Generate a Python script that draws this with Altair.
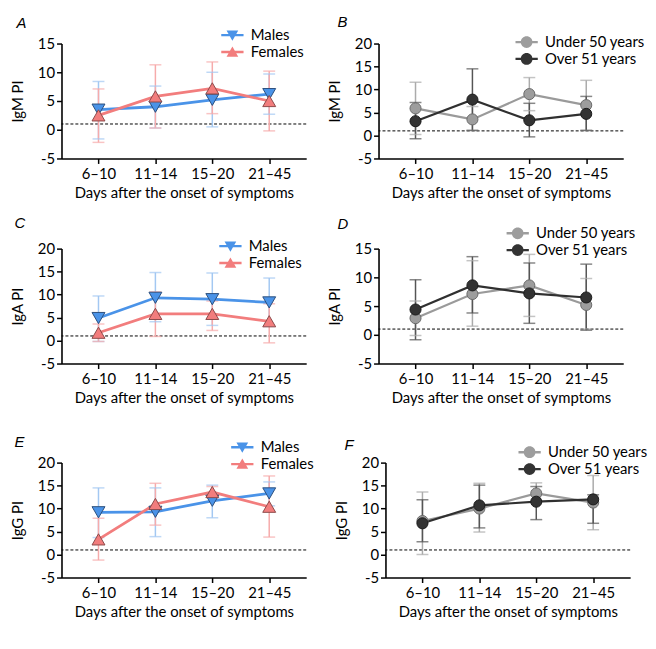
import altair as alt
import pandas as pd

days = ["6–10", "11–14", "15–20", "21–45"]
sex_groups = ["Males", "Females"]
age_groups = ["Under 50 years", "Over 51 years"]
x_title = "Days after the onset of symptoms"

# ---- A: IgM PI by sex ----
A_males_mean = [3.5, 4.0, 5.2, 6.2]
A_males_lo = [-1.6, 0.3, 0.5, 2.7]
A_males_hi = [8.4, 7.6, 10.0, 9.7]
A_females_mean = [2.5, 5.8, 7.2, 5.0]
A_females_lo = [-2.2, 0.3, 2.8, -0.2]
A_females_hi = [7.1, 11.3, 11.8, 10.2]

# ---- B: IgM PI by age ----
B_under_mean = [5.9, 3.5, 9.0, 6.6]
B_under_lo = [0.2, 1.1, 5.4, 1.1]
B_under_hi = [11.6, 6.3, 12.6, 12.0]
B_over_mean = [3.1, 7.8, 3.3, 4.7]
B_over_lo = [-0.7, 1.1, -0.3, 1.1]
B_over_hi = [7.2, 14.5, 7.0, 8.5]

# ---- C: IgA PI by sex ----
C_males_mean = [4.9, 9.3, 9.0, 8.3]
C_males_lo = [-0.2, 4.1, 3.3, 3.1]
C_males_hi = [9.7, 14.8, 14.7, 13.6]
C_females_mean = [1.7, 5.8, 5.8, 4.2]
C_females_lo = [-0.2, 0.9, 2.2, -0.5]
C_females_hi = [3.6, 10.6, 8.6, 8.0]

# ---- D: IgA PI by age ----
D_under_mean = [2.9, 7.1, 8.6, 5.2]
D_under_lo = [-0.1, 1.5, 3.2, 1.0]
D_under_hi = [5.9, 12.9, 14.0, 9.8]
D_over_mean = [4.4, 8.6, 7.2, 6.5]
D_over_lo = [-0.85, 3.8, 2.0, 0.8]
D_over_hi = [9.6, 13.6, 12.5, 12.3]

# ---- E: IgG PI by sex ----
E_males_mean = [9.2, 9.3, 11.7, 13.3]
E_males_lo = [3.7, 3.9, 8.0, 10.6]
E_males_hi = [14.5, 14.5, 15.1, 15.8]
E_females_mean = [3.3, 11.0, 13.6, 10.4]
E_females_lo = [-1.2, 6.4, 12.4, 3.8]
E_females_hi = [7.9, 15.5, 14.8, 17.1]

# ---- F: IgG PI by age ----
F_under_mean = [7.3, 10.0, 13.3, 11.3]
F_under_lo = [0.0, 4.9, 11.5, 5.4]
F_under_hi = [13.6, 15.5, 15.6, 17.2]
F_over_mean = [6.8, 10.7, 11.5, 12.0]
F_over_lo = [2.8, 5.8, 7.6, 6.8]
F_over_hi = [11.9, 15.1, 14.8, 13.0]

FONT = "Lato"
FS = 15

STUBS = "M-1.9,-0.2L-0.35,-0.2L-0.35,0.2L-1.9,0.2Z M0.35,-0.2L1.9,-0.2L1.9,0.2L0.35,0.2Z"
DOWN = "M-1,-0.8L1,-0.8L0,0.95Z " + STUBS
UP = "M-1,0.8L0,-0.95L1,0.8Z " + STUBS
CIRC = ("M-1,0A1,1,0,1,1,1,0A1,1,0,1,1,-1,0Z "
        "M-1.9,-0.2L-0.98,-0.2L-0.98,0.2L-1.9,0.2Z M0.98,-0.2L1.9,-0.2L1.9,0.2L0.98,0.2Z")

sex_style = dict(
    line=["#4a93e8", "#f27d7d"],
    err=["#a3c8f2", "#f6abab"],
    fill=["#4a93e8", "#f27d7d"],
    outline=["#2c4f7c", "#8c4a4a"],
    shapes=["triangle-down", "triangle-up"],
    paths=[DOWN, UP],
    size=170,
    lw=2.8,
)
age_style = dict(
    line=["#9a9a9a", "#303030"],
    err=["#ababab", "#555555"],
    fill=["#9d9d9d", "#333333"],
    outline=["#6a6a6a", "#1a1a1a"],
    shapes=["circle", "circle"],
    paths=[CIRC, CIRC],
    size=125,
    lw=2.2,
)


def make_df(groups, means, los, his):
    rows = []
    for g, m, lo, hi in zip(groups, means, los, his):
        for i, (d, mv, lv, hv) in enumerate(zip(days, m, lo, hi)):
            rows.append(dict(day=d, idx=i, group=g, mean=mv, lo=lv, hi=hv))
    return pd.DataFrame(rows)


def panel(letter, ytitle, ymax, groups, means, los, his, st, lx, ly, tdx, toff):
    df = make_df(groups, means, los, his)
    base = alt.Chart(df)
    x = alt.X("day:N", sort=days,
              scale=alt.Scale(type="point", padding=0.65),
              axis=alt.Axis(title=x_title, labelAngle=0, labelPadding=3,
                            titlePadding=4, titleFontWeight="normal"))
    ysc = alt.Scale(domain=[-5, ymax], nice=False, zero=False)
    yax = alt.Axis(title=ytitle, values=list(range(-5, ymax + 1, 5)),
                   labelExpr="toString(datum.value)", labelPadding=2,
                   labelOverlap=False, titlePadding=12, titleFontWeight="normal")
    y_mean = alt.Y("mean:Q", scale=ysc, axis=yax)

    def col(rng):
        return alt.Color("group:N", scale=alt.Scale(domain=groups, range=rng), legend=None)

    err = base.mark_rule(strokeWidth=1.5).encode(
        x=x, y=alt.Y("lo:Q", scale=ysc, axis=yax), y2="hi:Q", color=col(st["err"]))
    caps = base.transform_fold(["lo", "hi"], as_=["k", "v"]).mark_tick(
        size=12, thickness=1.5).encode(x=x, y=alt.Y("v:Q", scale=ysc, axis=yax),
                                       color=col(st["err"]))
    ref = alt.Chart(pd.DataFrame({"ref": [1]})).mark_rule(
        color="black", strokeWidth=1, strokeDash=[3, 2]).encode(
        y=alt.Y("ref:Q", scale=ysc, axis=yax))
    line = base.mark_line(strokeWidth=st["lw"]).encode(
        x=x, y=y_mean, color=col(st["line"]), order="idx:Q")
    pts = base.mark_point(filled=True, size=st["size"], strokeWidth=1, opacity=1).encode(
        x=x, y=y_mean, color=col(st["fill"]),
        stroke=alt.Stroke("group:N", scale=alt.Scale(domain=groups, range=st["outline"]), legend=None),
        shape=alt.Shape("group:N", scale=alt.Scale(domain=groups, range=st["shapes"]), legend=None))
    leg = alt.Legend(title=None, orient="none", legendX=lx, legendY=ly,
                     symbolOpacity=1, symbolSize=140, symbolStrokeWidth=0,
                     labelFontSize=FS, labelFont=FONT, labelColor="black",
                     labelOffset=11, rowPadding=1, padding=0)
    legl = base.mark_point(filled=True, opacity=0, size=10).encode(
        x=x, y=y_mean,
        color=alt.Color("group:N", scale=alt.Scale(domain=groups, range=st["fill"]), legend=leg),
        shape=alt.Shape("group:N", scale=alt.Scale(domain=groups, range=st["paths"]), legend=leg))
    return alt.layer(ref, err, caps, line, pts, legl).resolve_scale(
        color="independent", stroke="independent", shape="independent"
    ).properties(
        width=247, height=116,
        title=alt.TitleParams(letter, anchor="start", frame="bounds", fontStyle="italic",
                              fontWeight="normal", fontSize=15, font="Liberation Sans",
                              color="black", dx=tdx, offset=toff))


pA = panel("A", "IgM PI", 15, sex_groups, [A_males_mean, A_females_mean],
           [A_males_lo, A_females_lo], [A_males_hi, A_females_hi], sex_style, 165, -16, 6, -3)
pB = panel("B", "IgM PI", 20, age_groups, [B_under_mean, B_over_mean],
           [B_under_lo, B_over_lo], [B_under_hi, B_over_hi], age_style, 142, -9, 10, 5)
pC = panel("C", "IgA PI", 20, sex_groups, [C_males_mean, C_females_mean],
           [C_males_lo, C_females_lo], [C_males_hi, C_females_hi], sex_style, 163, -10, 4, 8)
pD = panel("D", "IgA PI", 15, age_groups, [D_under_mean, D_over_mean],
           [D_under_lo, D_over_lo], [D_under_hi, D_over_hi], age_style, 133, -23, 10, -6)
pE = panel("E", "IgG PI", 20, sex_groups, [E_males_mean, E_females_mean],
           [E_males_lo, E_females_lo], [E_males_hi, E_females_hi], sex_style, 175, -23, 4, -10)
pF = panel("F", "IgG PI", 20, age_groups, [F_under_mean, F_over_mean],
           [F_under_lo, F_over_lo], [F_under_hi, F_over_hi], age_style, 138, -18, 10, -8)

row1 = alt.hconcat(pA, pB, spacing=20)
row2 = alt.hconcat(pC, pD, spacing=20)
row3 = alt.hconcat(pE, pF, spacing=20)

chart = alt.vconcat(alt.vconcat(row1, row2, spacing=16), row3, spacing=30).properties(
    padding={"left": 2, "top": 4, "right": 0, "bottom": 0}
).configure_axis(
    domainColor="black", domainWidth=1.6, tickColor="black", tickWidth=1.5, tickSize=5,
    labelFont=FONT, labelFontSize=FS, labelColor="black", labelOverlap=False,
    titleFont=FONT, titleFontSize=FS, titleFontWeight="normal", titleColor="black",
    grid=False
).configure_view(stroke=None)

chart.save("out.html", embed_options={"renderer": "svg", "actions": False})
